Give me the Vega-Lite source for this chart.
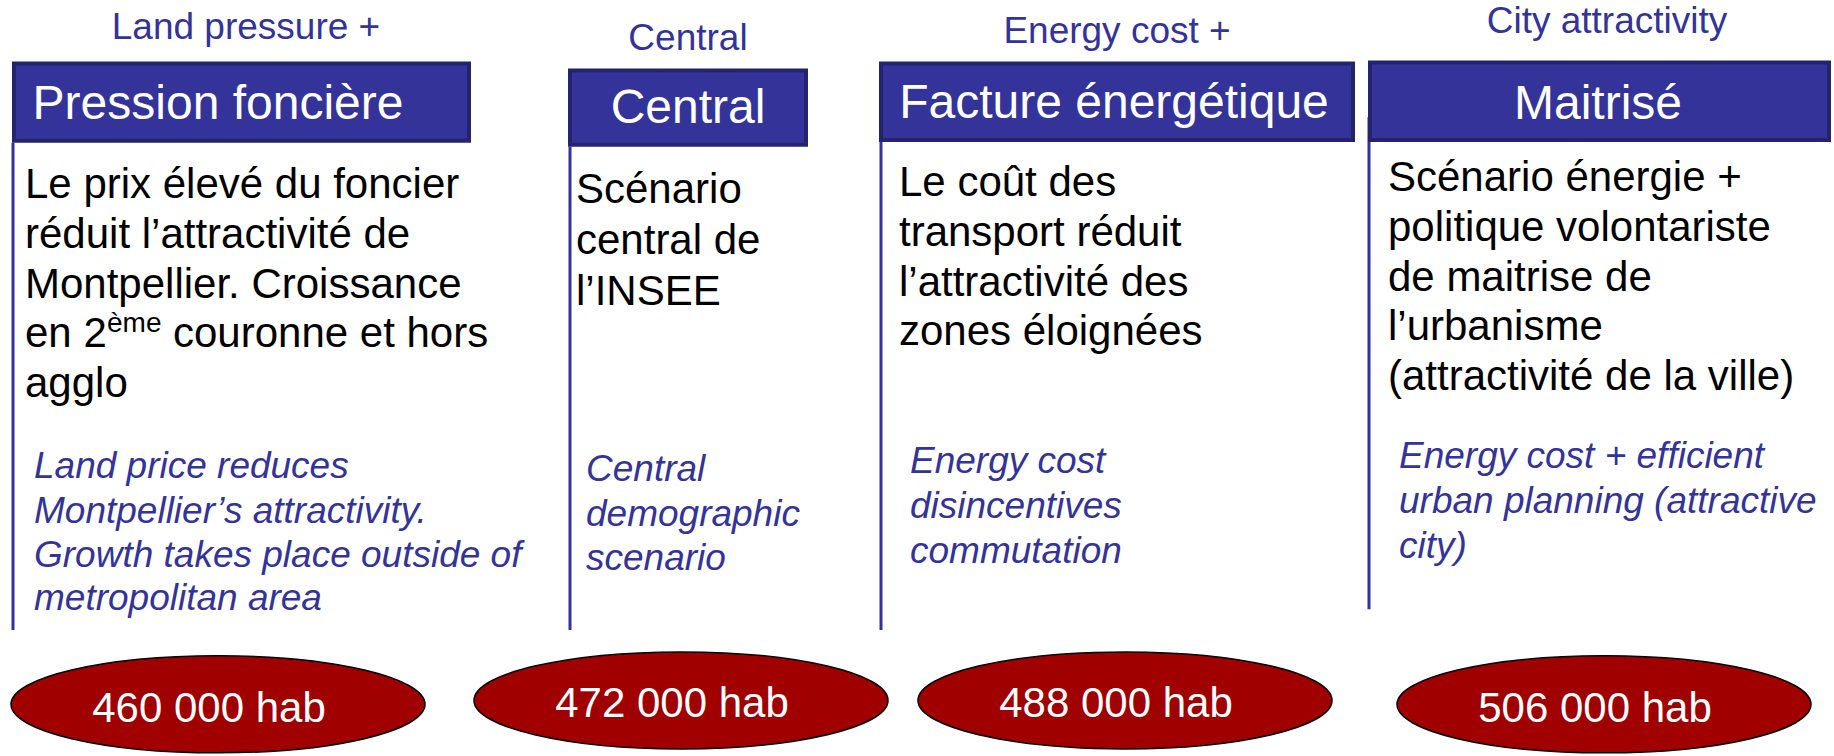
{
  "$schema": "https://vega.github.io/schema/vega-lite/v6.json",
  "width": 1834,
  "height": 756,
  "autosize": {"type": "fit", "contains": "padding"},
  "padding": 0,
  "background": "white",
  "config": {"view": {"stroke": null}},
  "datasets": {
    "lines": [
      {"scenario": "Pression foncière", "x": 13, "y": 144, "y2": 635},
      {"scenario": "Central", "x": 570, "y": 148, "y2": 635},
      {"scenario": "Facture énergétique", "x": 881, "y": 143, "y2": 635},
      {"scenario": "Maitrisé", "x": 1369, "y": 118, "y2": 614}
    ],
    "headers": [
      {"scenario": "Pression foncière", "x": 14, "x2": 469, "y": 64, "y2": 142, "tx": 218, "ty": 120},
      {"scenario": "Central", "x": 570, "x2": 806, "y": 71, "y2": 146, "tx": 688, "ty": 124},
      {"scenario": "Facture énergétique", "x": 881, "x2": 1353, "y": 64, "y2": 141, "tx": 1114, "ty": 119},
      {"scenario": "Maitrisé", "x": 1370, "x2": 1829, "y": 63, "y2": 141, "tx": 1598, "ty": 120}
    ],
    "labels": [
      {"label": "Land pressure +", "x": 246, "y": 39},
      {"label": "Central", "x": 688, "y": 50},
      {"label": "Energy cost +", "x": 1117, "y": 43},
      {"label": "City attractivity", "x": 1607, "y": 33}
    ],
    "french": [
      {"scenario": "Pression foncière", "text": "Le prix élevé du foncier", "x": 25, "y": 200},
      {"scenario": "Pression foncière", "text": "réduit l’attractivité de", "x": 25, "y": 250},
      {"scenario": "Pression foncière", "text": "Montpellier. Croissance", "x": 25, "y": 300},
      {"scenario": "Pression foncière", "text": "en 2", "x": 25, "y": 350},
      {"scenario": "Pression foncière", "text": "couronne et hors", "x": 173, "y": 350},
      {"scenario": "Pression foncière", "text": "agglo", "x": 25, "y": 400},
      {"scenario": "Central", "text": "Scénario", "x": 576, "y": 205},
      {"scenario": "Central", "text": "central de", "x": 576, "y": 256},
      {"scenario": "Central", "text": "l’INSEE", "x": 576, "y": 307},
      {"scenario": "Facture énergétique", "text": "Le coût des", "x": 899, "y": 198},
      {"scenario": "Facture énergétique", "text": "transport réduit", "x": 899, "y": 248},
      {"scenario": "Facture énergétique", "text": "l’attractivité des", "x": 899, "y": 298},
      {"scenario": "Facture énergétique", "text": "zones éloignées", "x": 899, "y": 348},
      {"scenario": "Maitrisé", "text": "Scénario énergie +", "x": 1388, "y": 193},
      {"scenario": "Maitrisé", "text": "politique volontariste", "x": 1388, "y": 243},
      {"scenario": "Maitrisé", "text": "de maitrise de", "x": 1388, "y": 293},
      {"scenario": "Maitrisé", "text": "l’urbanisme", "x": 1388, "y": 343},
      {"scenario": "Maitrisé", "text": "(attractivité de la ville)", "x": 1388, "y": 393}
    ],
    "superscript": [
      {"scenario": "Pression foncière", "text": "ème", "x": 107, "y": 335}
    ],
    "english": [
      {"scenario": "Pression foncière", "text": "Land price reduces", "x": 34, "y": 482},
      {"scenario": "Pression foncière", "text": "Montpellier’s attractivity.", "x": 34, "y": 527},
      {"scenario": "Pression foncière", "text": "Growth takes place outside of", "x": 34, "y": 572},
      {"scenario": "Pression foncière", "text": "metropolitan area", "x": 34, "y": 615},
      {"scenario": "Central", "text": "Central", "x": 586, "y": 485},
      {"scenario": "Central", "text": "demographic", "x": 586, "y": 530},
      {"scenario": "Central", "text": "scenario", "x": 586, "y": 575},
      {"scenario": "Facture énergétique", "text": "Energy cost", "x": 910, "y": 477},
      {"scenario": "Facture énergétique", "text": "disincentives", "x": 910, "y": 522},
      {"scenario": "Facture énergétique", "text": "commutation", "x": 910, "y": 567},
      {"scenario": "Maitrisé", "text": "Energy cost + efficient", "x": 1399, "y": 472},
      {"scenario": "Maitrisé", "text": "urban planning (attractive", "x": 1399, "y": 517},
      {"scenario": "Maitrisé", "text": "city)", "x": 1399, "y": 562}
    ],
    "population": [
      {"scenario": "Pression foncière", "population": "460 000 hab", "x": 218, "y": 710, "tx": 209, "ty": 728},
      {"scenario": "Central", "population": "472 000 hab", "x": 681, "y": 706, "tx": 672, "ty": 723},
      {"scenario": "Facture énergétique", "population": "488 000 hab", "x": 1125, "y": 706, "tx": 1116, "ty": 723},
      {"scenario": "Maitrisé", "population": "506 000 hab", "x": 1604, "y": 710, "tx": 1595, "ty": 728}
    ]
  },
  "encoding": {
    "x": {"field": "x", "type": "quantitative", "scale": {"domain": [0, 1834], "nice": false, "zero": false}, "axis": null},
    "y": {"field": "y", "type": "quantitative", "scale": {"domain": [0, 756], "nice": false, "zero": false, "reverse": true}, "axis": null}
  },
  "layer": [
    {
      "data": {"name": "lines"},
      "mark": {"type": "rule", "color": "#333399", "strokeWidth": 3},
      "encoding": {"y2": {"field": "y2"}}
    },
    {
      "data": {"name": "headers"},
      "mark": {"type": "rect", "fill": "#333399", "stroke": "#24246e", "strokeWidth": 4},
      "encoding": {"x2": {"field": "x2"}, "y2": {"field": "y2"}}
    },
    {
      "data": {"name": "headers"},
      "mark": {"type": "text", "font": "Liberation Sans", "fontSize": 48, "color": "white", "align": "center", "baseline": "alphabetic"},
      "encoding": {
        "x": {"field": "tx", "type": "quantitative"},
        "y": {"field": "ty", "type": "quantitative"},
        "text": {"field": "scenario"}
      }
    },
    {
      "data": {"name": "labels"},
      "mark": {"type": "text", "font": "Liberation Sans", "fontSize": 37, "color": "#333399", "align": "center", "baseline": "alphabetic"},
      "encoding": {"text": {"field": "label"}}
    },
    {
      "data": {"name": "french"},
      "mark": {"type": "text", "font": "Liberation Sans", "fontSize": 42, "color": "black", "align": "left", "baseline": "alphabetic"},
      "encoding": {"text": {"field": "text"}}
    },
    {
      "data": {"name": "superscript"},
      "mark": {"type": "text", "font": "Liberation Sans", "fontSize": 28, "color": "black", "align": "left", "baseline": "alphabetic"},
      "encoding": {"text": {"field": "text"}}
    },
    {
      "data": {"name": "english"},
      "mark": {"type": "text", "font": "Liberation Sans", "fontSize": 37, "fontStyle": "italic", "color": "#333399", "align": "left", "baseline": "alphabetic"},
      "encoding": {"text": {"field": "text"}}
    },
    {
      "data": {"name": "population"},
      "mark": {
        "type": "point",
        "shape": "M-1,0C-1,-0.1294,-0.5523,-0.2343,0,-0.2343C0.5523,-0.2343,1,-0.1294,1,0C1,0.1294,0.5523,0.2343,0,0.2343C-0.5523,0.2343,-1,0.1294,-1,0Z",
        "size": 171396,
        "filled": true,
        "fill": "#a00000",
        "stroke": "black",
        "strokeWidth": 1.5,
        "opacity": 1
      },
      "encoding": {}
    },
    {
      "data": {"name": "population"},
      "mark": {"type": "text", "font": "Liberation Sans", "fontSize": 42, "color": "white", "align": "center", "baseline": "alphabetic"},
      "encoding": {
        "x": {"field": "tx", "type": "quantitative"},
        "y": {"field": "ty", "type": "quantitative"},
        "text": {"field": "population"}
      }
    }
  ]
}
